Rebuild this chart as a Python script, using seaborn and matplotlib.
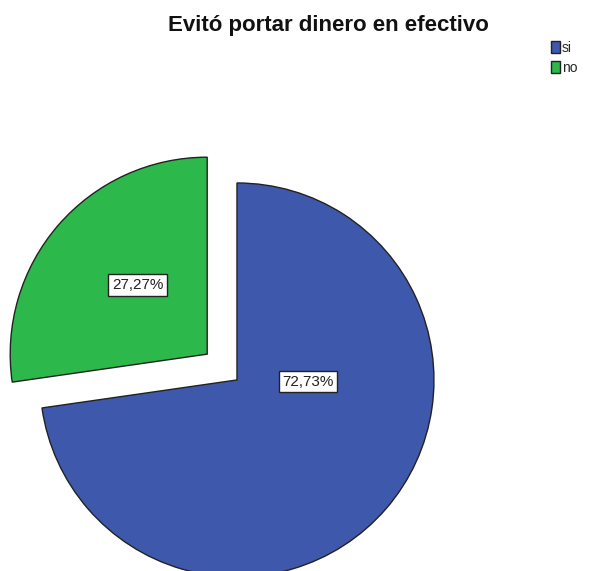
import matplotlib
matplotlib.use("Agg")
import matplotlib.pyplot as plt
import seaborn as sns

categories = ["si", "no"]
percentages = [72.73, 27.27]
colors = ["#3E58AC", "#2DB84B"]
title = "Evitó portar dinero en efectivo"


def main():
    sns.set_style("white")
    plt.rcParams["font.family"] = ["Liberation Sans", "DejaVu Sans"]

    fig = plt.figure(figsize=(5.89, 5.71), dpi=100)
    ax = fig.add_axes([0, 0, 1, 1])

    wedges, texts, autotexts = ax.pie(
        percentages,
        colors=colors,
        startangle=90,
        counterclock=False,
        explode=[0, 0.2],
        radius=1,
        autopct=lambda p: f"{p:.2f}%".replace(".", ","),
        wedgeprops=dict(edgecolor="#222222", linewidth=1.0),
        textprops=dict(fontsize=11, color="#222222"),
    )

    # SPSS puts the labels roughly here
    label_pos = [(-0.505, 0.482), (0.36, -0.01)][::-1]
    for t, pos in zip(autotexts, label_pos):
        t.set_position(pos)
        t.set_ha("center")
        t.set_va("center")
        t.set_bbox(dict(facecolor="white", edgecolor="#222222", linewidth=1.0, pad=2.5))

    ax.set_xlim(-1.203, 1.787)
    ax.set_ylim(-0.970, 1.929)
    ax.set_aspect("auto")
    ax.axis("off")

    fig.text(0.557, 1 - 31 / 571, title, ha="center", va="baseline",
             fontsize=16, fontweight="bold", color="#111111")

    fig.legend(wedges, categories, loc="upper left",
               bbox_to_anchor=(551 / 589, 1 - 41 / 571),
               frameon=False, fontsize=10, handlelength=0.65, handleheight=0.9,
               handletextpad=0.15, labelspacing=0.4, borderpad=0, borderaxespad=0)

    fig.savefig("out.png", dpi=100)


if __name__ == "__main__":
    main()
